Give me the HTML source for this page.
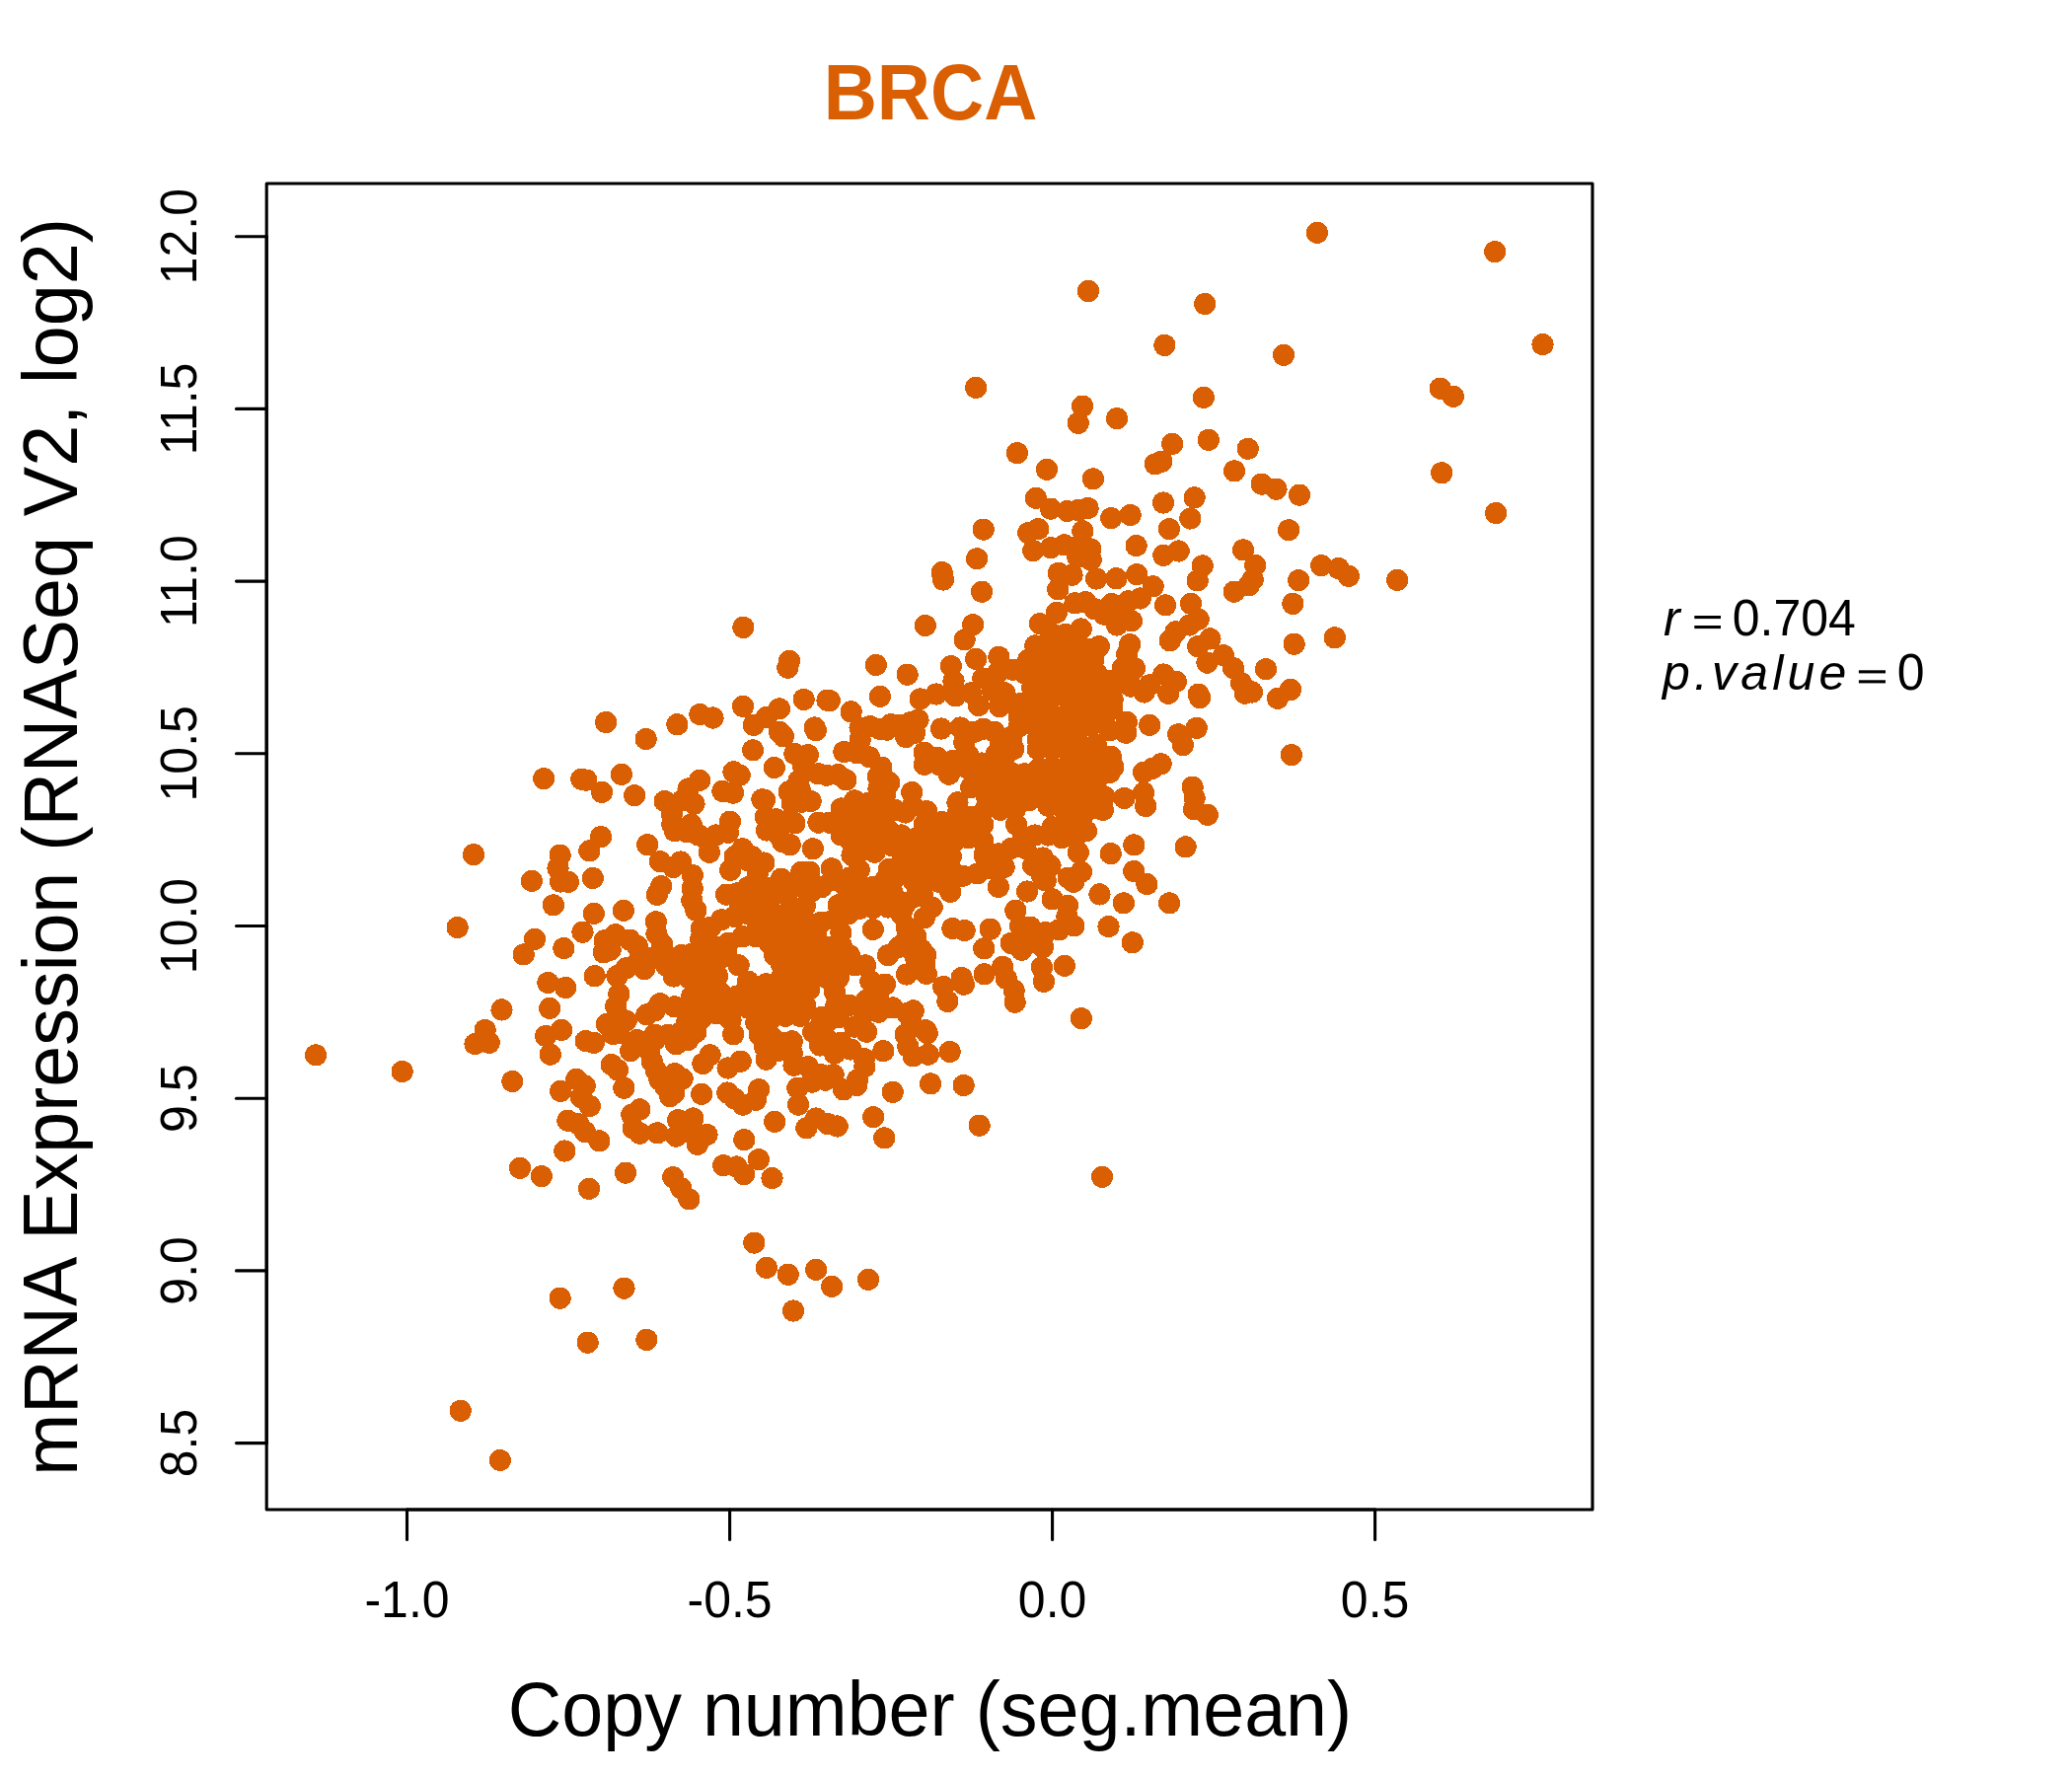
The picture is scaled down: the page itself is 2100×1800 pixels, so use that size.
<!DOCTYPE html>
<html><head><meta charset="utf-8"><title>BRCA</title>
<style>
html,body{margin:0;padding:0;background:#fff;}
body{width:2100px;height:1800px;overflow:hidden;font-family:"Liberation Sans",sans-serif;}
svg{display:block;}
text{font-family:"Liberation Sans",sans-serif;}
</style></head><body>
<svg width="2100" height="1800" viewBox="0 0 2100 1800">
<rect width="2100" height="1800" fill="#fff"/>
<g fill="#D95F02" shape-rendering="crispEdges"><circle cx="1103.0" cy="295.0" r="11.1"/><circle cx="989.1" cy="392.9" r="11.1"/><circle cx="1097.1" cy="411.6" r="11.1"/><circle cx="1092.7" cy="428.8" r="11.1"/><circle cx="1132.0" cy="424.1" r="11.1"/><circle cx="1030.8" cy="459.2" r="11.1"/><circle cx="1061.0" cy="475.8" r="11.1"/><circle cx="1107.9" cy="485.4" r="11.1"/><circle cx="1049.9" cy="504.8" r="11.1"/><circle cx="1064.9" cy="515.6" r="11.1"/><circle cx="1081.7" cy="518.0" r="11.1"/><circle cx="1092.9" cy="517.0" r="11.1"/><circle cx="1102.6" cy="515.0" r="11.1"/><circle cx="1126.3" cy="525.1" r="11.1"/><circle cx="1145.6" cy="522.0" r="11.1"/><circle cx="996.8" cy="536.6" r="11.1"/><circle cx="1052.3" cy="536.2" r="11.1"/><circle cx="1042.2" cy="540.1" r="11.1"/><circle cx="1097.3" cy="538.3" r="11.1"/><circle cx="1334.9" cy="235.8" r="11.1"/><circle cx="1515.3" cy="255.1" r="11.1"/><circle cx="1221.2" cy="308.0" r="11.1"/><circle cx="1180.4" cy="349.9" r="11.1"/><circle cx="1301.0" cy="359.7" r="11.1"/><circle cx="1563.5" cy="349.1" r="11.1"/><circle cx="1459.8" cy="393.7" r="11.1"/><circle cx="1472.9" cy="401.8" r="11.1"/><circle cx="1219.9" cy="402.9" r="11.1"/><circle cx="1188.1" cy="449.9" r="11.1"/><circle cx="1224.8" cy="445.8" r="11.1"/><circle cx="1264.7" cy="454.9" r="11.1"/><circle cx="1170.9" cy="470.4" r="11.1"/><circle cx="1177.4" cy="467.7" r="11.1"/><circle cx="1251.0" cy="477.4" r="11.1"/><circle cx="1278.7" cy="490.6" r="11.1"/><circle cx="1293.5" cy="495.7" r="11.1"/><circle cx="1317.0" cy="501.6" r="11.1"/><circle cx="1461.2" cy="479.3" r="11.1"/><circle cx="1210.6" cy="504.2" r="11.1"/><circle cx="1179.0" cy="509.5" r="11.1"/><circle cx="1206.4" cy="525.5" r="11.1"/><circle cx="1184.9" cy="536.2" r="11.1"/><circle cx="1306.1" cy="537.3" r="11.1"/><circle cx="1516.1" cy="520.0" r="11.1"/><circle cx="614.1" cy="732.0" r="11.1"/><circle cx="654.6" cy="749.0" r="11.1"/><circle cx="686.4" cy="734.2" r="11.1"/><circle cx="709.4" cy="724.1" r="11.1"/><circle cx="722.5" cy="727.5" r="11.1"/><circle cx="551.2" cy="789.1" r="11.1"/><circle cx="589.3" cy="789.7" r="11.1"/><circle cx="594.2" cy="790.6" r="11.1"/><circle cx="610.0" cy="802.9" r="11.1"/><circle cx="629.9" cy="784.9" r="11.1"/><circle cx="643.1" cy="806.2" r="11.1"/><circle cx="609.0" cy="848.1" r="11.1"/><circle cx="656.2" cy="856.2" r="11.1"/><circle cx="763.1" cy="760.4" r="11.1"/><circle cx="784.7" cy="778.0" r="11.1"/><circle cx="743.5" cy="782.2" r="11.1"/><circle cx="749.7" cy="785.7" r="11.1"/><circle cx="732.4" cy="801.9" r="11.1"/><circle cx="743.0" cy="803.6" r="11.1"/><circle cx="709.1" cy="790.8" r="11.1"/><circle cx="697.6" cy="799.5" r="11.1"/><circle cx="673.6" cy="812.0" r="11.1"/><circle cx="691.2" cy="811.4" r="11.1"/><circle cx="703.5" cy="814.7" r="11.1"/><circle cx="680.8" cy="824.9" r="11.1"/><circle cx="681.4" cy="835.7" r="11.1"/><circle cx="700.7" cy="835.7" r="11.1"/><circle cx="683.8" cy="842.2" r="11.1"/><circle cx="695.9" cy="843.1" r="11.1"/><circle cx="716.2" cy="850.8" r="11.1"/><circle cx="718.9" cy="863.8" r="11.1"/><circle cx="739.9" cy="832.6" r="11.1"/><circle cx="737.8" cy="843.8" r="11.1"/><circle cx="772.3" cy="810.3" r="11.1"/><circle cx="775.0" cy="810.7" r="11.1"/><circle cx="799.6" cy="802.2" r="11.1"/><circle cx="810.8" cy="800.5" r="11.1"/><circle cx="821.6" cy="812.0" r="11.1"/><circle cx="802.7" cy="814.1" r="11.1"/><circle cx="812.2" cy="812.7" r="11.1"/><circle cx="805.4" cy="764.1" r="11.1"/><circle cx="818.9" cy="765.1" r="11.1"/><circle cx="814.2" cy="777.6" r="11.1"/><circle cx="809.5" cy="791.1" r="11.1"/><circle cx="775.9" cy="828.2" r="11.1"/><circle cx="786.5" cy="830.3" r="11.1"/><circle cx="797.3" cy="833.0" r="11.1"/><circle cx="805.4" cy="834.3" r="11.1"/><circle cx="777.0" cy="841.5" r="11.1"/><circle cx="787.8" cy="845.1" r="11.1"/><circle cx="793.2" cy="853.2" r="11.1"/><circle cx="800.7" cy="856.2" r="11.1"/><circle cx="823.9" cy="860.3" r="11.1"/><circle cx="855.4" cy="762.0" r="11.1"/><circle cx="868.9" cy="763.4" r="11.1"/><circle cx="881.1" cy="767.4" r="11.1"/><circle cx="893.2" cy="777.6" r="11.1"/><circle cx="889.9" cy="787.0" r="11.1"/><circle cx="890.5" cy="799.2" r="11.1"/><circle cx="901.4" cy="793.1" r="11.1"/><circle cx="837.8" cy="785.7" r="11.1"/><circle cx="849.3" cy="785.0" r="11.1"/><circle cx="857.4" cy="790.4" r="11.1"/><circle cx="852.7" cy="819.5" r="11.1"/><circle cx="866.2" cy="811.4" r="11.1"/><circle cx="879.7" cy="814.1" r="11.1"/><circle cx="897.3" cy="804.6" r="11.1"/><circle cx="924.3" cy="803.0" r="11.1"/><circle cx="829.5" cy="833.6" r="11.1"/><circle cx="840.5" cy="833.6" r="11.1"/><circle cx="852.7" cy="833.0" r="11.1"/><circle cx="866.2" cy="827.6" r="11.1"/><circle cx="879.7" cy="827.6" r="11.1"/><circle cx="893.2" cy="820.8" r="11.1"/><circle cx="906.8" cy="820.8" r="11.1"/><circle cx="917.6" cy="823.5" r="11.1"/><circle cx="863.5" cy="854.6" r="11.1"/><circle cx="852.7" cy="846.5" r="11.1"/><circle cx="877.0" cy="847.8" r="11.1"/><circle cx="887.8" cy="838.4" r="11.1"/><circle cx="900.0" cy="841.1" r="11.1"/><circle cx="913.5" cy="846.5" r="11.1"/><circle cx="925.7" cy="850.5" r="11.1"/><circle cx="863.5" cy="866.8" r="11.1"/><circle cx="877.0" cy="861.4" r="11.1"/><circle cx="886.5" cy="863.8" r="11.1"/><circle cx="904.1" cy="857.3" r="11.1"/><circle cx="917.6" cy="860.0" r="11.1"/><circle cx="928.4" cy="865.4" r="11.1"/><circle cx="842.8" cy="880.3" r="11.1"/><circle cx="812.2" cy="883.6" r="11.1"/><circle cx="820.3" cy="883.6" r="11.1"/><circle cx="870.7" cy="881.6" r="11.1"/><circle cx="900.9" cy="880.9" r="11.1"/><circle cx="913.5" cy="874.9" r="11.1"/><circle cx="925.7" cy="878.9" r="11.1"/><circle cx="860.8" cy="889.7" r="11.1"/><circle cx="774.3" cy="874.5" r="11.1"/><circle cx="752.7" cy="860.3" r="11.1"/><circle cx="744.6" cy="868.1" r="11.1"/><circle cx="762.2" cy="868.1" r="11.1"/><circle cx="740.1" cy="881.9" r="11.1"/><circle cx="758.1" cy="872.2" r="11.1"/><circle cx="767.6" cy="885.7" r="11.1"/><circle cx="668.9" cy="873.1" r="11.1"/><circle cx="689.9" cy="873.5" r="11.1"/><circle cx="701.8" cy="887.0" r="11.1"/><circle cx="682.4" cy="878.9" r="11.1"/><circle cx="670.3" cy="898.1" r="11.1"/><circle cx="665.8" cy="906.8" r="11.1"/><circle cx="701.8" cy="900.5" r="11.1"/><circle cx="701.4" cy="912.7" r="11.1"/><circle cx="705.4" cy="922.8" r="11.1"/><circle cx="664.9" cy="934.3" r="11.1"/><circle cx="665.5" cy="946.5" r="11.1"/><circle cx="671.4" cy="957.6" r="11.1"/><circle cx="658.1" cy="970.8" r="11.1"/><circle cx="670.3" cy="970.8" r="11.1"/><circle cx="736.1" cy="906.6" r="11.1"/><circle cx="747.3" cy="905.3" r="11.1"/><circle cx="758.1" cy="899.2" r="11.1"/><circle cx="791.9" cy="890.7" r="11.1"/><circle cx="779.7" cy="900.5" r="11.1"/><circle cx="768.9" cy="897.8" r="11.1"/><circle cx="750.0" cy="915.4" r="11.1"/><circle cx="764.9" cy="912.7" r="11.1"/><circle cx="779.7" cy="912.7" r="11.1"/><circle cx="794.6" cy="905.9" r="11.1"/><circle cx="808.1" cy="897.8" r="11.1"/><circle cx="823.0" cy="903.2" r="11.1"/><circle cx="832.4" cy="899.2" r="11.1"/><circle cx="843.2" cy="892.4" r="11.1"/><circle cx="856.8" cy="897.8" r="11.1"/><circle cx="870.3" cy="895.1" r="11.1"/><circle cx="885.1" cy="898.8" r="11.1"/><circle cx="890.3" cy="903.2" r="11.1"/><circle cx="897.3" cy="891.8" r="11.1"/><circle cx="912.2" cy="886.8" r="11.1"/><circle cx="925.7" cy="892.4" r="11.1"/><circle cx="815.9" cy="918.1" r="11.1"/><circle cx="802.7" cy="919.5" r="11.1"/><circle cx="849.6" cy="917.4" r="11.1"/><circle cx="863.5" cy="911.4" r="11.1"/><circle cx="877.0" cy="912.7" r="11.1"/><circle cx="890.5" cy="916.8" r="11.1"/><circle cx="918.2" cy="915.4" r="11.1"/><circle cx="928.4" cy="908.6" r="11.1"/><circle cx="731.1" cy="932.3" r="11.1"/><circle cx="744.6" cy="928.9" r="11.1"/><circle cx="758.1" cy="926.2" r="11.1"/><circle cx="771.6" cy="924.9" r="11.1"/><circle cx="785.1" cy="926.2" r="11.1"/><circle cx="798.6" cy="930.3" r="11.1"/><circle cx="817.6" cy="934.3" r="11.1"/><circle cx="832.4" cy="934.6" r="11.1"/><circle cx="845.9" cy="931.6" r="11.1"/><circle cx="859.5" cy="926.2" r="11.1"/><circle cx="871.6" cy="920.8" r="11.1"/><circle cx="885.1" cy="920.1" r="11.1"/><circle cx="900.0" cy="919.5" r="11.1"/><circle cx="913.5" cy="926.2" r="11.1"/><circle cx="884.7" cy="942.0" r="11.1"/><circle cx="918.9" cy="939.7" r="11.1"/><circle cx="918.9" cy="951.9" r="11.1"/><circle cx="928.4" cy="949.2" r="11.1"/><circle cx="710.8" cy="941.1" r="11.1"/><circle cx="710.1" cy="951.9" r="11.1"/><circle cx="720.3" cy="939.7" r="11.1"/><circle cx="737.8" cy="955.9" r="11.1"/><circle cx="752.7" cy="949.2" r="11.1"/><circle cx="767.6" cy="941.1" r="11.1"/><circle cx="782.4" cy="941.1" r="11.1"/><circle cx="797.3" cy="943.8" r="11.1"/><circle cx="812.2" cy="947.8" r="11.1"/><circle cx="827.0" cy="947.8" r="11.1"/><circle cx="852.4" cy="945.1" r="11.1"/><circle cx="725.7" cy="960.0" r="11.1"/><circle cx="714.9" cy="962.7" r="11.1"/><circle cx="701.4" cy="966.8" r="11.1"/><circle cx="690.5" cy="968.1" r="11.1"/><circle cx="731.1" cy="970.8" r="11.1"/><circle cx="736.5" cy="968.1" r="11.1"/><circle cx="779.7" cy="955.9" r="11.1"/><circle cx="785.1" cy="968.1" r="11.1"/><circle cx="798.6" cy="958.6" r="11.1"/><circle cx="812.2" cy="961.4" r="11.1"/><circle cx="825.7" cy="960.0" r="11.1"/><circle cx="839.2" cy="960.0" r="11.1"/><circle cx="852.7" cy="958.6" r="11.1"/><circle cx="860.8" cy="968.1" r="11.1"/><circle cx="798.6" cy="970.8" r="11.1"/><circle cx="812.2" cy="972.2" r="11.1"/><circle cx="825.7" cy="972.2" r="11.1"/><circle cx="839.2" cy="972.2" r="11.1"/><circle cx="852.7" cy="970.8" r="11.1"/><circle cx="766.2" cy="949.2" r="11.1"/><circle cx="900.0" cy="968.1" r="11.1"/><circle cx="910.8" cy="960.0" r="11.1"/><circle cx="924.3" cy="962.7" r="11.1"/><circle cx="928.4" cy="972.2" r="11.1"/><circle cx="708.1" cy="846.5" r="11.1"/><circle cx="725.7" cy="846.5" r="11.1"/><circle cx="829.7" cy="784.3" r="11.1"/><circle cx="753.4" cy="635.9" r="11.1"/><circle cx="800.0" cy="670.0" r="11.1"/><circle cx="798.4" cy="676.7" r="11.1"/><circle cx="887.8" cy="674.0" r="11.1"/><circle cx="919.6" cy="683.8" r="11.1"/><circle cx="891.9" cy="705.8" r="11.1"/><circle cx="814.6" cy="708.9" r="11.1"/><circle cx="838.5" cy="709.8" r="11.1"/><circle cx="840.8" cy="710.1" r="11.1"/><circle cx="753.0" cy="715.9" r="11.1"/><circle cx="789.9" cy="718.4" r="11.1"/><circle cx="777.0" cy="726.7" r="11.1"/><circle cx="763.8" cy="734.8" r="11.1"/><circle cx="862.6" cy="721.3" r="11.1"/><circle cx="789.9" cy="741.6" r="11.1"/><circle cx="793.9" cy="746.3" r="11.1"/><circle cx="825.7" cy="737.5" r="11.1"/><circle cx="826.8" cy="740.2" r="11.1"/><circle cx="871.6" cy="737.5" r="11.1"/><circle cx="881.8" cy="736.2" r="11.1"/><circle cx="891.9" cy="738.9" r="11.1"/><circle cx="902.7" cy="734.2" r="11.1"/><circle cx="898.6" cy="739.6" r="11.1"/><circle cx="912.2" cy="734.8" r="11.1"/><circle cx="923.0" cy="732.1" r="11.1"/><circle cx="918.2" cy="747.0" r="11.1"/><circle cx="927.0" cy="742.9" r="11.1"/><circle cx="871.6" cy="749.7" r="11.1"/><circle cx="990.1" cy="566.3" r="11.1"/><circle cx="954.7" cy="580.1" r="11.1"/><circle cx="955.9" cy="587.5" r="11.1"/><circle cx="995.1" cy="599.7" r="11.1"/><circle cx="937.7" cy="634.0" r="11.1"/><circle cx="986.1" cy="633.2" r="11.1"/><circle cx="977.6" cy="648.4" r="11.1"/><circle cx="1047.2" cy="558.1" r="11.1"/><circle cx="1065.1" cy="555.1" r="11.1"/><circle cx="1078.6" cy="552.4" r="11.1"/><circle cx="1092.2" cy="553.8" r="11.1"/><circle cx="1105.4" cy="556.5" r="11.1"/><circle cx="1105.7" cy="567.3" r="11.1"/><circle cx="1092.2" cy="564.6" r="11.1"/><circle cx="1072.8" cy="580.8" r="11.1"/><circle cx="1086.5" cy="582.8" r="11.1"/><circle cx="1072.2" cy="597.4" r="11.1"/><circle cx="1111.1" cy="586.5" r="11.1"/><circle cx="1131.4" cy="586.2" r="11.1"/><circle cx="1152.3" cy="582.1" r="11.1"/><circle cx="1168.6" cy="594.3" r="11.1"/><circle cx="1151.6" cy="553.1" r="11.1"/><circle cx="1179.3" cy="562.9" r="11.1"/><circle cx="1194.6" cy="558.5" r="11.1"/><circle cx="1181.1" cy="613.4" r="11.1"/><circle cx="1207.0" cy="611.9" r="11.1"/><circle cx="1089.5" cy="611.2" r="11.1"/><circle cx="1100.3" cy="610.2" r="11.1"/><circle cx="1070.9" cy="620.9" r="11.1"/><circle cx="1126.6" cy="612.1" r="11.1"/><circle cx="1143.5" cy="609.2" r="11.1"/><circle cx="1155.7" cy="606.5" r="11.1"/><circle cx="1146.9" cy="629.4" r="11.1"/><circle cx="1132.0" cy="633.5" r="11.1"/><circle cx="1119.2" cy="622.7" r="11.1"/><circle cx="1095.7" cy="637.5" r="11.1"/><circle cx="1109.7" cy="617.3" r="11.1"/><circle cx="1053.9" cy="632.1" r="11.1"/><circle cx="1049.3" cy="654.4" r="11.1"/><circle cx="1065.1" cy="641.6" r="11.1"/><circle cx="1080.0" cy="642.9" r="11.1"/><circle cx="1113.8" cy="655.1" r="11.1"/><circle cx="1145.3" cy="653.1" r="11.1"/><circle cx="1142.2" cy="663.2" r="11.1"/><circle cx="1137.7" cy="677.4" r="11.1"/><circle cx="1150.0" cy="677.4" r="11.1"/><circle cx="1179.3" cy="683.5" r="11.1"/><circle cx="1191.9" cy="690.9" r="11.1"/><circle cx="1165.1" cy="694.3" r="11.1"/><circle cx="1159.7" cy="701.5" r="11.1"/><circle cx="1184.1" cy="702.8" r="11.1"/><circle cx="1146.2" cy="695.6" r="11.1"/><circle cx="1132.7" cy="692.9" r="11.1"/><circle cx="1127.6" cy="709.2" r="11.1"/><circle cx="1127.3" cy="718.6" r="11.1"/><circle cx="1141.9" cy="731.9" r="11.1"/><circle cx="1165.1" cy="734.8" r="11.1"/><circle cx="1141.2" cy="742.7" r="11.1"/><circle cx="1110.8" cy="754.7" r="11.1"/><circle cx="1194.2" cy="744.3" r="11.1"/><circle cx="1198.9" cy="755.1" r="11.1"/><circle cx="1185.8" cy="649.3" r="11.1"/><circle cx="1191.5" cy="640.2" r="11.1"/><circle cx="1205.7" cy="633.5" r="11.1"/><circle cx="989.1" cy="667.9" r="11.1"/><circle cx="1012.4" cy="665.9" r="11.1"/><circle cx="963.8" cy="675.1" r="11.1"/><circle cx="966.5" cy="690.2" r="11.1"/><circle cx="1026.6" cy="678.8" r="11.1"/><circle cx="996.2" cy="687.5" r="11.1"/><circle cx="1011.1" cy="682.1" r="11.1"/><circle cx="948.9" cy="703.5" r="11.1"/><circle cx="932.7" cy="708.5" r="11.1"/><circle cx="968.2" cy="705.4" r="11.1"/><circle cx="984.1" cy="702.4" r="11.1"/><circle cx="991.8" cy="715.0" r="11.1"/><circle cx="1013.1" cy="716.2" r="11.1"/><circle cx="1005.7" cy="699.7" r="11.1"/><circle cx="1018.5" cy="702.4" r="11.1"/><circle cx="953.9" cy="738.5" r="11.1"/><circle cx="973.2" cy="737.5" r="11.1"/><circle cx="988.1" cy="741.6" r="11.1"/><circle cx="996.9" cy="738.6" r="11.1"/><circle cx="1007.7" cy="741.6" r="11.1"/><circle cx="977.3" cy="752.4" r="11.1"/><circle cx="1013.8" cy="755.1" r="11.1"/><circle cx="1024.6" cy="747.0" r="11.1"/><circle cx="1063.8" cy="655.1" r="11.1"/><circle cx="1078.6" cy="656.5" r="11.1"/><circle cx="1093.5" cy="655.1" r="11.1"/><circle cx="1105.7" cy="657.8" r="11.1"/><circle cx="1042.2" cy="668.6" r="11.1"/><circle cx="1057.0" cy="668.6" r="11.1"/><circle cx="1071.9" cy="670.0" r="11.1"/><circle cx="1086.8" cy="668.6" r="11.1"/><circle cx="1101.6" cy="670.0" r="11.1"/><circle cx="1108.4" cy="668.6" r="11.1"/><circle cx="1038.1" cy="682.1" r="11.1"/><circle cx="1051.6" cy="683.5" r="11.1"/><circle cx="1066.5" cy="683.5" r="11.1"/><circle cx="1081.4" cy="682.1" r="11.1"/><circle cx="1096.2" cy="679.4" r="11.1"/><circle cx="1111.1" cy="682.1" r="11.1"/><circle cx="1124.6" cy="690.2" r="11.1"/><circle cx="1046.2" cy="697.0" r="11.1"/><circle cx="1061.1" cy="697.0" r="11.1"/><circle cx="1075.9" cy="694.3" r="11.1"/><circle cx="1090.8" cy="695.6" r="11.1"/><circle cx="1105.7" cy="694.3" r="11.1"/><circle cx="1119.2" cy="697.0" r="11.1"/><circle cx="1034.1" cy="713.2" r="11.1"/><circle cx="1048.9" cy="710.5" r="11.1"/><circle cx="1063.8" cy="709.2" r="11.1"/><circle cx="1070.5" cy="702.4" r="11.1"/><circle cx="1097.6" cy="709.2" r="11.1"/><circle cx="1112.4" cy="709.2" r="11.1"/><circle cx="1032.7" cy="726.7" r="11.1"/><circle cx="1047.6" cy="724.0" r="11.1"/><circle cx="1062.4" cy="722.7" r="11.1"/><circle cx="1073.2" cy="726.7" r="11.1"/><circle cx="1086.8" cy="732.1" r="11.1"/><circle cx="1097.6" cy="721.3" r="11.1"/><circle cx="1112.4" cy="721.3" r="11.1"/><circle cx="1032.7" cy="736.2" r="11.1"/><circle cx="1048.9" cy="736.2" r="11.1"/><circle cx="1063.8" cy="736.2" r="11.1"/><circle cx="1078.6" cy="738.9" r="11.1"/><circle cx="1092.2" cy="741.6" r="11.1"/><circle cx="1119.2" cy="730.8" r="11.1"/><circle cx="1124.6" cy="740.2" r="11.1"/><circle cx="1051.6" cy="749.7" r="11.1"/><circle cx="1066.5" cy="749.7" r="11.1"/><circle cx="1081.4" cy="751.1" r="11.1"/><circle cx="1092.2" cy="753.8" r="11.1"/><circle cx="1024.6" cy="749.7" r="11.1"/><circle cx="1027.3" cy="759.2" r="11.1"/><circle cx="1051.6" cy="759.2" r="11.1"/><circle cx="1066.5" cy="759.2" r="11.1"/><circle cx="1081.4" cy="760.0" r="11.1"/><circle cx="1135.4" cy="621.3" r="11.1"/><circle cx="1260.0" cy="557.4" r="11.1"/><circle cx="1272.2" cy="572.9" r="11.1"/><circle cx="1269.7" cy="587.5" r="11.1"/><circle cx="1265.7" cy="593.4" r="11.1"/><circle cx="1250.8" cy="599.7" r="11.1"/><circle cx="1218.8" cy="573.4" r="11.1"/><circle cx="1213.8" cy="588.4" r="11.1"/><circle cx="1214.7" cy="627.7" r="11.1"/><circle cx="1316.1" cy="588.2" r="11.1"/><circle cx="1310.4" cy="611.9" r="11.1"/><circle cx="1339.1" cy="573.1" r="11.1"/><circle cx="1356.6" cy="576.1" r="11.1"/><circle cx="1366.8" cy="583.8" r="11.1"/><circle cx="1416.1" cy="587.9" r="11.1"/><circle cx="1352.8" cy="646.3" r="11.1"/><circle cx="1311.6" cy="652.8" r="11.1"/><circle cx="1226.5" cy="647.4" r="11.1"/><circle cx="1214.1" cy="655.1" r="11.1"/><circle cx="1223.5" cy="671.6" r="11.1"/><circle cx="1240.0" cy="664.3" r="11.1"/><circle cx="1250.0" cy="677.1" r="11.1"/><circle cx="1258.0" cy="692.3" r="11.1"/><circle cx="1261.8" cy="702.7" r="11.1"/><circle cx="1268.9" cy="701.5" r="11.1"/><circle cx="1283.0" cy="678.2" r="11.1"/><circle cx="1308.0" cy="699.0" r="11.1"/><circle cx="1295.0" cy="707.8" r="11.1"/><circle cx="1214.7" cy="703.8" r="11.1"/><circle cx="1216.1" cy="707.1" r="11.1"/><circle cx="1212.7" cy="737.9" r="11.1"/><circle cx="1149.3" cy="856.4" r="11.1"/><circle cx="1125.7" cy="865.1" r="11.1"/><circle cx="1201.6" cy="858.4" r="11.1"/><circle cx="1149.2" cy="883.0" r="11.1"/><circle cx="1162.4" cy="896.1" r="11.1"/><circle cx="1114.5" cy="906.4" r="11.1"/><circle cx="1138.9" cy="915.4" r="11.1"/><circle cx="1185.1" cy="915.4" r="11.1"/><circle cx="1123.5" cy="939.1" r="11.1"/><circle cx="1147.8" cy="955.3" r="11.1"/><circle cx="1208.6" cy="797.8" r="11.1"/><circle cx="1210.0" cy="820.1" r="11.1"/><circle cx="1176.6" cy="774.2" r="11.1"/><circle cx="1167.8" cy="778.9" r="11.1"/><circle cx="1159.1" cy="782.7" r="11.1"/><circle cx="1159.1" cy="803.5" r="11.1"/><circle cx="1161.1" cy="817.0" r="11.1"/><circle cx="1139.5" cy="808.9" r="11.1"/><circle cx="936.8" cy="762.7" r="11.1"/><circle cx="949.5" cy="767.6" r="11.1"/><circle cx="966.5" cy="770.8" r="11.1"/><circle cx="981.4" cy="765.4" r="11.1"/><circle cx="994.9" cy="773.5" r="11.1"/><circle cx="1009.7" cy="764.1" r="11.1"/><circle cx="1017.8" cy="768.1" r="11.1"/><circle cx="1096.2" cy="764.1" r="11.1"/><circle cx="1111.1" cy="764.1" r="11.1"/><circle cx="1125.9" cy="766.8" r="11.1"/><circle cx="936.8" cy="774.9" r="11.1"/><circle cx="951.6" cy="774.9" r="11.1"/><circle cx="981.4" cy="778.9" r="11.1"/><circle cx="1009.7" cy="777.6" r="11.1"/><circle cx="1024.6" cy="783.0" r="11.1"/><circle cx="1038.1" cy="784.3" r="11.1"/><circle cx="1053.0" cy="778.9" r="11.1"/><circle cx="1066.5" cy="777.6" r="11.1"/><circle cx="1081.4" cy="777.6" r="11.1"/><circle cx="1096.2" cy="777.6" r="11.1"/><circle cx="1111.1" cy="777.6" r="11.1"/><circle cx="1128.4" cy="777.6" r="11.1"/><circle cx="961.8" cy="784.7" r="11.1"/><circle cx="984.1" cy="798.2" r="11.1"/><circle cx="997.6" cy="789.7" r="11.1"/><circle cx="1011.1" cy="791.1" r="11.1"/><circle cx="1024.6" cy="795.1" r="11.1"/><circle cx="1038.1" cy="797.8" r="11.1"/><circle cx="1053.0" cy="792.4" r="11.1"/><circle cx="1066.5" cy="791.1" r="11.1"/><circle cx="1081.4" cy="791.1" r="11.1"/><circle cx="1096.2" cy="791.1" r="11.1"/><circle cx="1111.1" cy="791.1" r="11.1"/><circle cx="1124.6" cy="783.0" r="11.1"/><circle cx="970.5" cy="813.4" r="11.1"/><circle cx="998.9" cy="804.6" r="11.1"/><circle cx="1012.4" cy="805.9" r="11.1"/><circle cx="1027.3" cy="808.6" r="11.1"/><circle cx="1042.2" cy="811.4" r="11.1"/><circle cx="1057.0" cy="805.9" r="11.1"/><circle cx="1071.9" cy="805.9" r="11.1"/><circle cx="1086.8" cy="805.9" r="11.1"/><circle cx="1101.6" cy="805.9" r="11.1"/><circle cx="1119.2" cy="807.3" r="11.1"/><circle cx="939.2" cy="822.2" r="11.1"/><circle cx="954.3" cy="833.0" r="11.1"/><circle cx="970.5" cy="824.9" r="11.1"/><circle cx="984.1" cy="827.6" r="11.1"/><circle cx="998.9" cy="819.5" r="11.1"/><circle cx="1013.8" cy="820.8" r="11.1"/><circle cx="1028.6" cy="820.8" r="11.1"/><circle cx="1062.4" cy="816.8" r="11.1"/><circle cx="1077.3" cy="819.5" r="11.1"/><circle cx="1092.2" cy="819.5" r="11.1"/><circle cx="1107.0" cy="819.5" r="11.1"/><circle cx="1117.8" cy="820.8" r="11.1"/><circle cx="936.8" cy="835.7" r="11.1"/><circle cx="951.6" cy="835.7" r="11.1"/><circle cx="966.5" cy="838.4" r="11.1"/><circle cx="981.4" cy="841.1" r="11.1"/><circle cx="996.2" cy="835.7" r="11.1"/><circle cx="1030.0" cy="835.7" r="11.1"/><circle cx="1066.5" cy="838.4" r="11.1"/><circle cx="1081.4" cy="834.3" r="11.1"/><circle cx="1096.2" cy="833.0" r="11.1"/><circle cx="1100.9" cy="842.4" r="11.1"/><circle cx="1062.4" cy="846.5" r="11.1"/><circle cx="936.8" cy="850.5" r="11.1"/><circle cx="951.6" cy="850.5" r="11.1"/><circle cx="966.5" cy="853.2" r="11.1"/><circle cx="981.4" cy="849.2" r="11.1"/><circle cx="996.2" cy="851.9" r="11.1"/><circle cx="1036.8" cy="847.8" r="11.1"/><circle cx="1048.9" cy="846.5" r="11.1"/><circle cx="1075.9" cy="849.2" r="11.1"/><circle cx="1089.5" cy="849.2" r="11.1"/><circle cx="936.8" cy="865.4" r="11.1"/><circle cx="951.6" cy="865.4" r="11.1"/><circle cx="963.8" cy="868.1" r="11.1"/><circle cx="997.6" cy="866.8" r="11.1"/><circle cx="1012.4" cy="865.4" r="11.1"/><circle cx="1024.6" cy="860.0" r="11.1"/><circle cx="1039.5" cy="860.0" r="11.1"/><circle cx="1092.8" cy="864.1" r="11.1"/><circle cx="936.8" cy="880.3" r="11.1"/><circle cx="951.6" cy="880.3" r="11.1"/><circle cx="963.8" cy="881.6" r="11.1"/><circle cx="975.9" cy="887.7" r="11.1"/><circle cx="990.8" cy="885.4" r="11.1"/><circle cx="1004.3" cy="880.3" r="11.1"/><circle cx="1017.6" cy="878.9" r="11.1"/><circle cx="1047.0" cy="877.3" r="11.1"/><circle cx="1064.5" cy="877.3" r="11.1"/><circle cx="1055.7" cy="887.0" r="11.1"/><circle cx="1059.7" cy="892.4" r="11.1"/><circle cx="1095.9" cy="883.6" r="11.1"/><circle cx="1082.7" cy="889.7" r="11.1"/><circle cx="1088.1" cy="893.8" r="11.1"/><circle cx="936.8" cy="895.1" r="11.1"/><circle cx="951.6" cy="893.8" r="11.1"/><circle cx="963.1" cy="903.9" r="11.1"/><circle cx="1011.9" cy="898.9" r="11.1"/><circle cx="1041.1" cy="903.5" r="11.1"/><circle cx="1066.8" cy="911.4" r="11.1"/><circle cx="1082.0" cy="917.8" r="11.1"/><circle cx="935.4" cy="908.6" r="11.1"/><circle cx="944.6" cy="919.5" r="11.1"/><circle cx="936.8" cy="930.3" r="11.1"/><circle cx="1029.3" cy="922.8" r="11.1"/><circle cx="1088.4" cy="938.4" r="11.1"/><circle cx="1081.4" cy="928.9" r="11.1"/><circle cx="1034.1" cy="938.4" r="11.1"/><circle cx="1044.2" cy="939.7" r="11.1"/><circle cx="1059.7" cy="945.1" r="11.1"/><circle cx="1073.2" cy="942.4" r="11.1"/><circle cx="1024.6" cy="955.9" r="11.1"/><circle cx="1035.4" cy="962.7" r="11.1"/><circle cx="1051.6" cy="955.9" r="11.1"/><circle cx="1057.0" cy="960.0" r="11.1"/><circle cx="1003.6" cy="941.8" r="11.1"/><circle cx="997.2" cy="961.4" r="11.1"/><circle cx="965.4" cy="941.1" r="11.1"/><circle cx="977.6" cy="943.1" r="11.1"/><circle cx="934.1" cy="962.7" r="11.1"/><circle cx="938.1" cy="968.1" r="11.1"/><circle cx="1038.1" cy="951.9" r="11.1"/><circle cx="1057.0" cy="869.5" r="11.1"/><circle cx="1308.9" cy="765.1" r="11.1"/><circle cx="1210.6" cy="808.7" r="11.1"/><circle cx="1223.8" cy="825.9" r="11.1"/><circle cx="480.0" cy="866.1" r="11.1"/><circle cx="597.4" cy="862.4" r="11.1"/><circle cx="567.6" cy="866.8" r="11.1"/><circle cx="565.5" cy="879.9" r="11.1"/><circle cx="568.0" cy="893.5" r="11.1"/><circle cx="575.8" cy="893.8" r="11.1"/><circle cx="538.9" cy="892.8" r="11.1"/><circle cx="600.8" cy="890.0" r="11.1"/><circle cx="560.9" cy="917.4" r="11.1"/><circle cx="601.8" cy="925.9" r="11.1"/><circle cx="631.9" cy="922.8" r="11.1"/><circle cx="463.6" cy="940.0" r="11.1"/><circle cx="590.5" cy="944.7" r="11.1"/><circle cx="542.0" cy="951.9" r="11.1"/><circle cx="530.8" cy="967.4" r="11.1"/><circle cx="571.4" cy="961.1" r="11.1"/><circle cx="623.8" cy="947.2" r="11.1"/><circle cx="638.2" cy="952.6" r="11.1"/><circle cx="612.6" cy="953.2" r="11.1"/><circle cx="611.9" cy="965.4" r="11.1"/><circle cx="645.7" cy="958.6" r="11.1"/><circle cx="648.4" cy="970.8" r="11.1"/><circle cx="618.6" cy="962.7" r="11.1"/><circle cx="407.6" cy="1086.0" r="11.1"/><circle cx="508.5" cy="1023.4" r="11.1"/><circle cx="491.6" cy="1043.9" r="11.1"/><circle cx="481.5" cy="1058.1" r="11.1"/><circle cx="495.7" cy="1056.8" r="11.1"/><circle cx="519.3" cy="1096.0" r="11.1"/><circle cx="555.4" cy="996.0" r="11.1"/><circle cx="573.1" cy="1001.0" r="11.1"/><circle cx="557.2" cy="1021.9" r="11.1"/><circle cx="569.1" cy="1043.9" r="11.1"/><circle cx="553.1" cy="1050.0" r="11.1"/><circle cx="557.8" cy="1068.7" r="11.1"/><circle cx="602.7" cy="989.2" r="11.1"/><circle cx="625.4" cy="989.2" r="11.1"/><circle cx="634.9" cy="981.1" r="11.1"/><circle cx="627.4" cy="1007.5" r="11.1"/><circle cx="624.1" cy="1019.6" r="11.1"/><circle cx="614.9" cy="1037.9" r="11.1"/><circle cx="634.6" cy="1034.5" r="11.1"/><circle cx="626.8" cy="1047.3" r="11.1"/><circle cx="621.4" cy="1048.0" r="11.1"/><circle cx="593.6" cy="1055.0" r="11.1"/><circle cx="601.8" cy="1056.8" r="11.1"/><circle cx="639.2" cy="1065.2" r="11.1"/><circle cx="645.7" cy="1054.1" r="11.1"/><circle cx="619.7" cy="1079.1" r="11.1"/><circle cx="626.1" cy="1084.5" r="11.1"/><circle cx="632.4" cy="1102.7" r="11.1"/><circle cx="584.2" cy="1093.9" r="11.1"/><circle cx="592.7" cy="1100.4" r="11.1"/><circle cx="568.2" cy="1105.8" r="11.1"/><circle cx="588.9" cy="1112.2" r="11.1"/><circle cx="597.8" cy="1121.0" r="11.1"/><circle cx="575.4" cy="1135.8" r="11.1"/><circle cx="586.2" cy="1139.2" r="11.1"/><circle cx="593.0" cy="1147.3" r="11.1"/><circle cx="607.4" cy="1156.4" r="11.1"/><circle cx="572.3" cy="1166.5" r="11.1"/><circle cx="640.3" cy="1129.8" r="11.1"/><circle cx="641.6" cy="1143.3" r="11.1"/><circle cx="648.4" cy="1124.4" r="11.1"/><circle cx="648.4" cy="1148.7" r="11.1"/><circle cx="527.0" cy="1183.8" r="11.1"/><circle cx="904.7" cy="1106.9" r="11.1"/><circle cx="885.1" cy="1132.2" r="11.1"/><circle cx="896.2" cy="1153.4" r="11.1"/><circle cx="785.1" cy="1136.9" r="11.1"/><circle cx="754.3" cy="1155.2" r="11.1"/><circle cx="711.1" cy="1108.8" r="11.1"/><circle cx="895.3" cy="1065.2" r="11.1"/><circle cx="918.9" cy="987.5" r="11.1"/><circle cx="687.2" cy="1135.2" r="11.1"/><circle cx="702.4" cy="1133.5" r="11.1"/><circle cx="666.2" cy="1148.3" r="11.1"/><circle cx="685.4" cy="1151.6" r="11.1"/><circle cx="716.5" cy="1150.0" r="11.1"/><circle cx="706.8" cy="1159.8" r="11.1"/><circle cx="697.3" cy="1147.3" r="11.1"/><circle cx="733.1" cy="1181.1" r="11.1"/><circle cx="746.6" cy="1182.5" r="11.1"/><circle cx="768.9" cy="1175.2" r="11.1"/><circle cx="668.9" cy="1017.2" r="11.1"/><circle cx="682.8" cy="989.5" r="11.1"/><circle cx="655.4" cy="1028.4" r="11.1"/><circle cx="663.5" cy="1024.4" r="11.1"/><circle cx="663.5" cy="1048.7" r="11.1"/><circle cx="677.0" cy="1048.7" r="11.1"/><circle cx="690.5" cy="1046.0" r="11.1"/><circle cx="705.4" cy="1046.0" r="11.1"/><circle cx="685.1" cy="1058.4" r="11.1"/><circle cx="697.3" cy="1054.1" r="11.1"/><circle cx="663.5" cy="1054.1" r="11.1"/><circle cx="658.1" cy="1064.9" r="11.1"/><circle cx="660.8" cy="1075.7" r="11.1"/><circle cx="664.9" cy="1085.2" r="11.1"/><circle cx="683.8" cy="1088.1" r="11.1"/><circle cx="691.6" cy="1093.3" r="11.1"/><circle cx="668.5" cy="1094.6" r="11.1"/><circle cx="679.1" cy="1111.1" r="11.1"/><circle cx="683.1" cy="1108.1" r="11.1"/><circle cx="674.3" cy="1101.4" r="11.1"/><circle cx="719.6" cy="1069.2" r="11.1"/><circle cx="712.4" cy="1078.0" r="11.1"/><circle cx="750.7" cy="1075.7" r="11.1"/><circle cx="737.6" cy="1082.5" r="11.1"/><circle cx="743.2" cy="1048.3" r="11.1"/><circle cx="737.2" cy="1107.5" r="11.1"/><circle cx="769.2" cy="1104.1" r="11.1"/><circle cx="753.0" cy="1119.6" r="11.1"/><circle cx="765.9" cy="1114.9" r="11.1"/><circle cx="744.6" cy="1113.5" r="11.1"/><circle cx="776.6" cy="1073.7" r="11.1"/><circle cx="766.2" cy="1036.5" r="11.1"/><circle cx="769.6" cy="1048.7" r="11.1"/><circle cx="775.0" cy="1060.8" r="11.1"/><circle cx="804.5" cy="1079.8" r="11.1"/><circle cx="808.4" cy="1102.7" r="11.1"/><circle cx="809.1" cy="1119.6" r="11.1"/><circle cx="817.3" cy="1143.3" r="11.1"/><circle cx="827.0" cy="1133.5" r="11.1"/><circle cx="839.2" cy="1139.2" r="11.1"/><circle cx="848.6" cy="1141.5" r="11.1"/><circle cx="855.0" cy="1104.4" r="11.1"/><circle cx="868.2" cy="1100.0" r="11.1"/><circle cx="876.4" cy="1081.1" r="11.1"/><circle cx="875.7" cy="1073.0" r="11.1"/><circle cx="917.6" cy="1048.7" r="11.1"/><circle cx="925.7" cy="1024.4" r="11.1"/><circle cx="924.3" cy="1037.9" r="11.1"/><circle cx="920.3" cy="1060.8" r="11.1"/><circle cx="925.7" cy="1070.3" r="11.1"/><circle cx="897.0" cy="997.6" r="11.1"/><circle cx="878.1" cy="1045.7" r="11.1"/><circle cx="675.0" cy="978.4" r="11.1"/><circle cx="689.2" cy="977.1" r="11.1"/><circle cx="704.1" cy="977.1" r="11.1"/><circle cx="718.9" cy="977.1" r="11.1"/><circle cx="748.6" cy="978.4" r="11.1"/><circle cx="791.9" cy="977.1" r="11.1"/><circle cx="806.8" cy="977.1" r="11.1"/><circle cx="866.2" cy="978.4" r="11.1"/><circle cx="877.0" cy="978.4" r="11.1"/><circle cx="697.3" cy="990.6" r="11.1"/><circle cx="712.2" cy="990.6" r="11.1"/><circle cx="727.0" cy="989.2" r="11.1"/><circle cx="758.1" cy="994.6" r="11.1"/><circle cx="776.4" cy="997.3" r="11.1"/><circle cx="791.9" cy="990.6" r="11.1"/><circle cx="806.8" cy="990.6" r="11.1"/><circle cx="821.6" cy="990.6" r="11.1"/><circle cx="836.5" cy="990.6" r="11.1"/><circle cx="850.0" cy="990.6" r="11.1"/><circle cx="882.4" cy="994.6" r="11.1"/><circle cx="701.4" cy="1009.5" r="11.1"/><circle cx="714.9" cy="1004.1" r="11.1"/><circle cx="729.7" cy="1005.4" r="11.1"/><circle cx="747.3" cy="1009.5" r="11.1"/><circle cx="762.2" cy="1008.1" r="11.1"/><circle cx="777.0" cy="1010.8" r="11.1"/><circle cx="791.9" cy="1004.1" r="11.1"/><circle cx="806.8" cy="1004.1" r="11.1"/><circle cx="820.3" cy="1002.7" r="11.1"/><circle cx="845.9" cy="1005.4" r="11.1"/><circle cx="878.4" cy="1013.5" r="11.1"/><circle cx="890.5" cy="1012.2" r="11.1"/><circle cx="683.8" cy="1020.3" r="11.1"/><circle cx="698.6" cy="1023.0" r="11.1"/><circle cx="713.5" cy="1018.9" r="11.1"/><circle cx="728.4" cy="1020.3" r="11.1"/><circle cx="743.2" cy="1023.0" r="11.1"/><circle cx="758.1" cy="1021.6" r="11.1"/><circle cx="773.0" cy="1024.4" r="11.1"/><circle cx="787.8" cy="1017.6" r="11.1"/><circle cx="802.7" cy="1017.6" r="11.1"/><circle cx="816.2" cy="1018.9" r="11.1"/><circle cx="832.4" cy="1031.1" r="11.1"/><circle cx="847.3" cy="1018.9" r="11.1"/><circle cx="860.8" cy="1018.9" r="11.1"/><circle cx="875.7" cy="1027.1" r="11.1"/><circle cx="890.5" cy="1025.7" r="11.1"/><circle cx="695.9" cy="1036.5" r="11.1"/><circle cx="710.8" cy="1032.5" r="11.1"/><circle cx="725.7" cy="1027.1" r="11.1"/><circle cx="740.5" cy="1033.8" r="11.1"/><circle cx="781.1" cy="1032.5" r="11.1"/><circle cx="795.9" cy="1029.8" r="11.1"/><circle cx="810.8" cy="1029.8" r="11.1"/><circle cx="824.3" cy="1046.0" r="11.1"/><circle cx="836.5" cy="1037.9" r="11.1"/><circle cx="866.2" cy="1040.6" r="11.1"/><circle cx="782.4" cy="1051.4" r="11.1"/><circle cx="802.7" cy="1055.4" r="11.1"/><circle cx="839.2" cy="1054.1" r="11.1"/><circle cx="852.7" cy="1056.8" r="11.1"/><circle cx="845.9" cy="1067.6" r="11.1"/><circle cx="789.2" cy="1064.9" r="11.1"/><circle cx="802.7" cy="1067.6" r="11.1"/><circle cx="862.2" cy="1063.5" r="11.1"/><circle cx="818.9" cy="1081.1" r="11.1"/><circle cx="832.4" cy="1089.2" r="11.1"/><circle cx="844.6" cy="1089.2" r="11.1"/><circle cx="823.0" cy="1096.6" r="11.1"/><circle cx="836.5" cy="1094.6" r="11.1"/><circle cx="868.9" cy="1094.6" r="11.1"/><circle cx="793.2" cy="1056.8" r="11.1"/><circle cx="831.1" cy="1059.5" r="11.1"/><circle cx="850.0" cy="1031.1" r="11.1"/><circle cx="1095.9" cy="1032.1" r="11.1"/><circle cx="1078.9" cy="978.8" r="11.1"/><circle cx="1055.9" cy="980.4" r="11.1"/><circle cx="1058.0" cy="994.9" r="11.1"/><circle cx="1016.2" cy="979.8" r="11.1"/><circle cx="1019.9" cy="991.9" r="11.1"/><circle cx="1027.6" cy="1003.8" r="11.1"/><circle cx="1028.6" cy="1015.8" r="11.1"/><circle cx="997.6" cy="987.2" r="11.1"/><circle cx="974.6" cy="991.0" r="11.1"/><circle cx="976.9" cy="997.7" r="11.1"/><circle cx="956.1" cy="1000.0" r="11.1"/><circle cx="960.4" cy="1014.9" r="11.1"/><circle cx="938.8" cy="986.9" r="11.1"/><circle cx="937.4" cy="975.7" r="11.1"/><circle cx="938.1" cy="1044.2" r="11.1"/><circle cx="939.7" cy="1047.1" r="11.1"/><circle cx="962.6" cy="1066.0" r="11.1"/><circle cx="940.8" cy="1068.7" r="11.1"/><circle cx="943.1" cy="1098.4" r="11.1"/><circle cx="976.6" cy="1100.0" r="11.1"/><circle cx="992.6" cy="1140.8" r="11.1"/><circle cx="548.8" cy="1192.1" r="11.1"/><circle cx="597.0" cy="1204.9" r="11.1"/><circle cx="634.1" cy="1188.6" r="11.1"/><circle cx="682.2" cy="1193.1" r="11.1"/><circle cx="690.3" cy="1204.2" r="11.1"/><circle cx="698.4" cy="1215.4" r="11.1"/><circle cx="754.1" cy="1190.1" r="11.1"/><circle cx="782.5" cy="1194.1" r="11.1"/><circle cx="764.3" cy="1259.6" r="11.1"/><circle cx="776.9" cy="1284.9" r="11.1"/><circle cx="632.5" cy="1305.6" r="11.1"/><circle cx="567.6" cy="1315.7" r="11.1"/><circle cx="595.6" cy="1360.7" r="11.1"/><circle cx="655.4" cy="1357.9" r="11.1"/><circle cx="466.7" cy="1429.9" r="11.1"/><circle cx="506.8" cy="1479.9" r="11.1"/><circle cx="1117.0" cy="1192.7" r="11.1"/><circle cx="798.7" cy="1291.8" r="11.1"/><circle cx="827.1" cy="1286.8" r="11.1"/><circle cx="843.1" cy="1303.8" r="11.1"/><circle cx="880.0" cy="1296.9" r="11.1"/><circle cx="804.0" cy="1328.5" r="11.1"/><circle cx="320.1" cy="1069.4" r="11.1"/><circle cx="891.0" cy="850.5" r="11.1"/><circle cx="924.9" cy="816.8" r="11.1"/><circle cx="1085.3" cy="713.7" r="11.1"/><circle cx="1105.6" cy="735.7" r="11.1"/><circle cx="904.6" cy="904.6" r="11.1"/><circle cx="919.2" cy="1027.1" r="11.1"/><circle cx="864.9" cy="841.1" r="11.1"/><circle cx="930.5" cy="729.7" r="11.1"/><circle cx="904.9" cy="1021.4" r="11.1"/><circle cx="653.2" cy="982.2" r="11.1"/></g>
<g stroke="#000" stroke-width="3.1" fill="none" stroke-linecap="round" stroke-linejoin="round"><rect x="270.2" y="186" width="1343.8" height="1344"/><path d="M412.5 1530H1393.6"/><path d="M412.5 1530V1560.5"/><path d="M739.6 1530V1560.5"/><path d="M1066.6 1530V1560.5"/><path d="M1393.6 1530V1560.5"/><path d="M270.2 239.7V1462.6"/><path d="M270.2 239.7H239.5"/><path d="M270.2 414.4H239.5"/><path d="M270.2 589.1H239.5"/><path d="M270.2 763.8H239.5"/><path d="M270.2 938.5H239.5"/><path d="M270.2 1113.2H239.5"/><path d="M270.2 1287.9H239.5"/><path d="M270.2 1462.6H239.5"/></g>
<g font-size="50" text-anchor="middle" fill="#000"><text transform="translate(412.5,1639) scale(1,1.035)">-1.0</text><text transform="translate(739.6,1639) scale(1,1.035)">-0.5</text><text transform="translate(1066.6,1639) scale(1,1.035)">0.0</text><text transform="translate(1393.6,1639) scale(1,1.035)">0.5</text><text transform="translate(198.8,239.7) rotate(-90) scale(1,1.035)">12.0</text><text transform="translate(198.8,414.4) rotate(-90) scale(1,1.035)">11.5</text><text transform="translate(198.8,589.1) rotate(-90) scale(1,1.035)">11.0</text><text transform="translate(198.8,763.8) rotate(-90) scale(1,1.035)">10.5</text><text transform="translate(198.8,938.5) rotate(-90) scale(1,1.035)">10.0</text><text transform="translate(198.8,1113.2) rotate(-90) scale(1,1.035)">9.5</text><text transform="translate(198.8,1287.9) rotate(-90) scale(1,1.035)">9.0</text><text transform="translate(198.8,1462.6) rotate(-90) scale(1,1.035)">8.5</text></g>
<text transform="translate(943,120.8) scale(1,1.07)" font-size="75" font-weight="bold" text-anchor="middle" fill="#D95F02">BRCA</text>
<text transform="translate(942.5,1759) scale(1,1.03)" font-size="75.45" text-anchor="middle">Copy number (seg.mean)</text>
<text transform="translate(77.8,858.5) rotate(-90) scale(1,1.03)" font-size="75.45" text-anchor="middle">mRNA Expression (RNASeq V2, log2)</text>
<g font-size="50" fill="#000">
<text x="1686" y="643.8" font-style="italic">r</text>
<rect x="1717.3" y="624" width="26.7" height="3.1"/><rect x="1717.3" y="634" width="26.7" height="3.1"/>
<text transform="translate(1755.8,643.8) scale(1,1.03)">0.704</text>
<text x="1684.9" y="698.9" font-style="italic" letter-spacing="4.2">p.value</text>
<rect x="1883.9" y="679.3" width="27.1" height="3.1"/><rect x="1883.9" y="689.3" width="27.1" height="3.1"/>
<text transform="translate(1922.7,698.9) scale(1,1.03)">0</text>
</g>
</svg></body></html>
